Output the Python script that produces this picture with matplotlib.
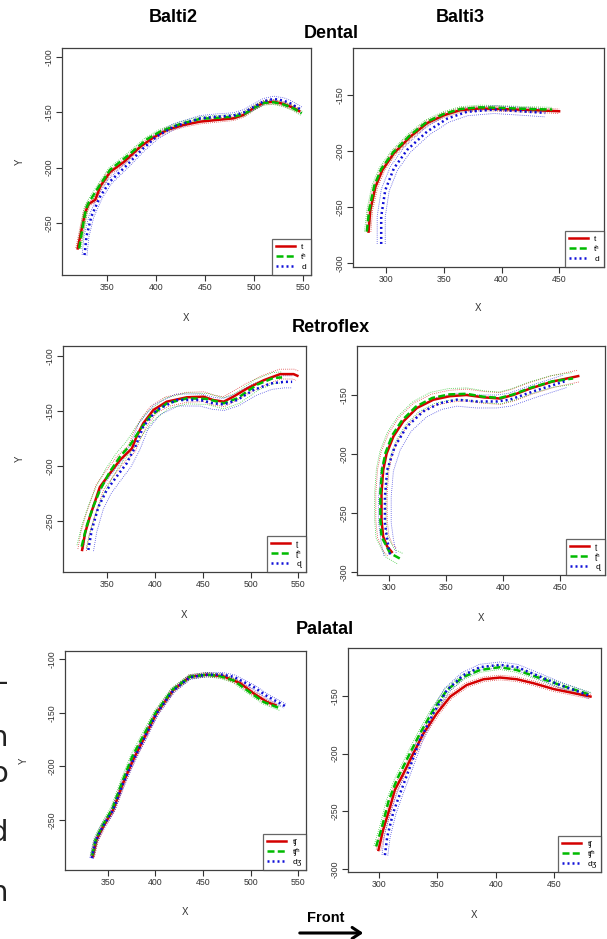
import numpy as np
import matplotlib
matplotlib.use("Agg")
import matplotlib.pyplot as plt
from matplotlib import font_manager
from matplotlib.patches import FancyArrowPatch

# ---- data ----
# Balti2, dental
b2_den_t_x = [320, 324, 327.5, 331, 338, 343, 353, 367, 384, 397, 411, 428, 445, 462, 479, 489, 499, 509.5, 520, 530, 540, 546]
b2_den_t_y = [-273, -256, -241, -233, -229, -217, -204, -195, -181, -173, -166, -161.5, -158.5, -157, -155.5, -152.5, -146.5, -141.5, -140.5, -142.5, -146, -149]
b2_den_th_x = [321.5, 326, 328.5, 331, 339.5, 353, 370, 390.5, 404, 425, 445, 462, 479, 490, 500, 510, 520, 530, 540, 548.5]
b2_den_th_y = [-273, -249, -237, -232, -220, -202, -190, -174.5, -167.5, -160.5, -156, -155, -154, -151.5, -146, -141.5, -141, -143, -146.5, -151]
b2_den_d_x = [327, 329, 334, 343, 353, 370, 387, 400.5, 418, 445, 462, 479, 490, 499, 510, 520, 530, 537, 548.5]
b2_den_d_y = [-279, -262, -244, -226, -212.5, -198, -182.5, -172, -163, -155.5, -154, -153, -150, -145.5, -140, -138, -139.5, -142, -148]
b2_den_band = [2.0, 2.0, 2.5]

# Balti3, dental
b3_den_t_x = [284.5, 286, 290.5, 296.5, 306.5, 321, 335.5, 350, 364, 381.5, 399, 428, 450]
b3_den_t_y = [-272, -253, -232, -217, -202, -187, -175, -168, -163.5, -162, -162.5, -163.5, -164.5]
b3_den_th_x = [283, 285, 289.5, 295.5, 306, 320.5, 335, 349.5, 364, 381.5, 399, 425, 444]
b3_den_th_y = [-272, -253, -231, -216, -201, -186, -174, -167, -162.5, -161, -161.5, -162.5, -163]
b3_den_d_x = [295.5, 295.5, 299, 306.5, 318, 335.5, 353, 370, 393.5, 416.5, 438]
b3_den_d_y = [-283, -258.5, -235, -215.5, -199, -182.5, -171, -165, -163, -164.5, -166]
b3_den_band = [2.0, 2.0, 3.5]

# Balti2, retroflex
b2_ret_t_x = [324, 327, 332, 337.5, 342.5, 353, 363.5, 376, 381, 388, 398.5, 412.5, 433.5, 451, 461, 472, 482, 496.5, 514, 531, 545, 549]
b2_ret_t_y = [-276, -261, -246, -232, -219, -206.5, -194.5, -184, -173, -161, -149, -141.5, -137.5, -137, -140, -141.5, -137, -129.5, -122, -116.5, -116.5, -118]
b2_ret_th_x = [323.5, 328.5, 335.5, 342.5, 353, 363.5, 374, 384.5, 395, 412.5, 433.5, 454.5, 472, 486, 507, 524, 533]
b2_ret_th_y = [-273, -255, -237, -222, -205, -191.5, -181, -167, -155, -143, -138.5, -139, -143, -138.5, -126, -120, -119.5]
b2_ret_d_x = [330.5, 334, 341, 349.5, 360, 370.5, 379.5, 388, 402, 423, 447.5, 461, 472, 486, 503, 521, 535, 543.5]
b2_ret_d_y = [-276, -258, -237, -222, -209.5, -197.5, -182.5, -164, -149, -140, -140, -143, -144, -140, -131, -125, -123.5, -123.5]
b2_ret_band = [4.5, 5.0, 5.5]

# Balti3, retroflex
b3_ret_t_x = [302.5, 298.5, 295, 293.5, 293.5, 295, 298, 304, 312.5, 324.5, 339, 353.5, 368, 383, 397.5, 409, 424, 444, 466]
b3_ret_t_y = [-283, -278.5, -270, -256, -233, -213.5, -199.5, -185, -172.5, -161, -154, -151, -150, -152, -153, -150, -144.5, -138.5, -134]
b3_ret_th_x = [309.5, 301, 293.5, 292.5, 292.5, 294, 297, 303, 311.5, 323.5, 338, 353, 368, 383, 397.5, 409, 424, 443, 461.5]
b3_ret_th_y = [-288.5, -284, -270, -256, -233, -213, -199, -184, -171.5, -160, -152.5, -149.5, -149, -151.5, -152.5, -149.5, -144, -138.5, -136]
b3_ret_d_x = [301, 298.5, 296.5, 296.5, 298.5, 305, 315.5, 330, 344.5, 359.5, 377, 394.5, 406, 426.5, 454]
b3_ret_d_y = [-285, -273, -258.5, -236, -213.5, -194, -177, -164, -157, -154, -155.5, -155.5, -154, -147, -138.5]
b3_ret_band = [5.0, 5.0, 5.5]

# Balti2, palatal
b2_pal_t_x = [334, 338, 345, 355.5, 366, 376.5, 387, 401, 418.5, 436, 454, 471, 489, 503, 517, 526]
b2_pal_t_y = [-284, -268.5, -256, -240.5, -215.5, -194, -175.5, -150.5, -129, -116.5, -114.5, -116, -122.5, -132, -140, -143]
b2_pal_th_x = [333.5, 337.5, 344.5, 355, 365.5, 375.5, 386, 400.5, 418, 436, 454, 468, 482, 496, 513.5, 531]
b2_pal_th_y = [-283, -267.5, -255, -239, -213.5, -191, -173.5, -149.5, -128.5, -116.5, -114.5, -116, -120, -129, -140, -146]
b2_pal_d_x = [333, 337, 344, 355, 366, 376.5, 387, 401, 418.5, 436, 454, 470, 482, 503, 517, 534.5, 536]
b2_pal_d_y = [-285.5, -270, -257, -241.5, -216, -194.5, -176, -151, -129.5, -117, -114.5, -114.5, -116.5, -126, -134.5, -143, -144]
b2_pal_band = [2.0, 2.0, 2.0]

# Balti3, palatal
b3_pal_t_x = [299.5, 303.5, 309.5, 313.5, 321, 329.5, 338, 349.5, 361, 375, 389.5, 403.5, 418, 432.5, 449.5, 466.5, 481]
b3_pal_t_y = [-283.5, -266, -246, -231.5, -217, -199.5, -182.5, -165, -150.5, -140.5, -135.5, -134, -135.5, -139, -144, -147.5, -150.5]
b3_pal_th_x = [297.5, 302.5, 308, 315, 323.5, 335, 346.5, 358, 372, 386.5, 403.5, 418, 435, 455, 481]
b3_pal_th_y = [-280.5, -263.5, -241.5, -223, -205.5, -182.5, -162, -145, -133.5, -127.5, -125, -127.5, -133.5, -140.5, -149]
b3_pal_d_x = [305, 307, 312, 318, 326.5, 335, 346.5, 358, 372, 386.5, 403.5, 418, 435, 455, 481]
b3_pal_d_y = [-288, -272, -251.5, -234.5, -211.5, -188, -165, -145, -132, -125, -123, -125, -132, -140.5, -150]
b3_pal_band = [2.0, 2.0, 2.5]

dental_labels = ["t", "tʰ", "d"]
retroflex_labels = ["ʈ", "ʈʰ", "ɖ"]
palatal_labels = ["tʃ", "tʃʰ", "dʒ"]

left_xticks = [350, 400, 450, 500, 550]
left_yticks = [-100, -150, -200, -250]
right_xticks = [300, 350, 400, 450]
right_yticks = [-150, -200, -250, -300]

# ---- style ----
names = {f.name for f in font_manager.fontManager.ttflist}
title_font = "Liberation Sans Narrow" if "Liberation Sans Narrow" in names else "Liberation Sans"
plt.rcParams["font.family"] = ["Liberation Sans", "DejaVu Sans"]
plt.rcParams["axes.unicode_minus"] = False

colors = ["#d40000", "#00bb00", "#1010d8"]
styles = ["-", (0, (2.8, 1.3)), (0, (0.8, 1.2))]
frame_col = "#404040"

W, H = 607, 939
fig = plt.figure(figsize=(W / 100, H / 100), dpi=100)


def px_axes(x0, y0, x1, y1):
    return fig.add_axes([x0 / W, 1 - y1 / H, (x1 - x0) / W, (y1 - y0) / H])


def band_lines(x, y, w):
    # dotted confidence lines on both sides of a curve
    x = np.asarray(x, float)
    y = np.asarray(y, float)
    dx = np.gradient(x)
    dy = np.gradient(y)
    n = np.hypot(dx, dy)
    nx, ny = -dy / n, dx / n
    return (x + nx * w, y + ny * w), (x - nx * w, y - ny * w)


def panel(box, xlim, ylim, xticks, yticks, curves, bands, labels, xlab_y, ylab_x=None):
    ax = px_axes(*box)
    ax.set_xlim(*xlim)
    ax.set_ylim(*ylim)
    handles = []
    for (cx, cy), w, c in zip(curves, bands, colors):
        up, lo = band_lines(cx, cy, w)
        ax.plot(*up, color=c, lw=0.6, ls=(0, (1, 1.5)), alpha=0.75)
        ax.plot(*lo, color=c, lw=0.6, ls=(0, (1, 1.5)), alpha=0.75)
    for (cx, cy), c, ls, lab in zip(curves, colors, styles, labels):
        h, = ax.plot(cx, cy, color=c, lw=1.8, ls=ls, label=lab)
        handles.append(h)
    ax.set_xticks(xticks)
    ax.set_yticks(yticks)
    ax.tick_params(labelsize=6.3, colors="#333333", length=4, width=0.8, pad=2)
    for lbl in ax.get_yticklabels():
        lbl.set_rotation(90)
        lbl.set_va("center")
    for s in ax.spines.values():
        s.set_color(frame_col)
        s.set_linewidth(0.9)
    x0, y0, x1, y1 = box
    ax.set_xlabel("X", fontsize=7, color="#333333")
    ax.xaxis.set_label_coords(0.5, -(xlab_y - y1) / (y1 - y0))
    if ylab_x is not None:
        ax.set_ylabel("Y", fontsize=7, color="#333333")
        ax.yaxis.set_label_coords(-(x0 - ylab_x) / (x1 - x0), 0.5)
    leg = ax.legend(handles=handles, loc="lower right", borderaxespad=0, fontsize=6,
                    frameon=True, fancybox=False, handlelength=2.2, handletextpad=0.8,
                    labelspacing=0.25, borderpad=0.5)
    leg.get_frame().set_edgecolor(frame_col)
    leg.get_frame().set_linewidth(0.9)
    return ax


panel((62, 48, 311, 275), (304, 558), (-297, -92), left_xticks, left_yticks,
      [(b2_den_t_x, b2_den_t_y), (b2_den_th_x, b2_den_th_y), (b2_den_d_x, b2_den_d_y)],
      b2_den_band, dental_labels, 313, 25)
panel((353, 48, 604, 267), (271, 489), (-303.6, -108), right_xticks, right_yticks,
      [(b3_den_t_x, b3_den_t_y), (b3_den_th_x, b3_den_th_y), (b3_den_d_x, b3_den_d_y)],
      b3_den_band, dental_labels, 303)
panel((63, 346, 306, 572), (304, 558), (-296, -91), left_xticks, left_yticks,
      [(b2_ret_t_x, b2_ret_t_y), (b2_ret_th_x, b2_ret_th_y), (b2_ret_d_x, b2_ret_d_y)],
      b2_ret_band, retroflex_labels, 610, 25)
panel((357, 346, 605, 575), (272, 489.5), (-302.5, -108.5), right_xticks, right_yticks,
      [(b3_ret_t_x, b3_ret_t_y), (b3_ret_th_x, b3_ret_th_y), (b3_ret_d_x, b3_ret_d_y)],
      b3_ret_band, retroflex_labels, 613)
panel((65, 651, 306, 870), (305, 558), (-296.5, -92.5), left_xticks, left_yticks,
      [(b2_pal_t_x, b2_pal_t_y), (b2_pal_th_x, b2_pal_th_y), (b2_pal_d_x, b2_pal_d_y)],
      b2_pal_band, palatal_labels, 907, 29)
panel((348, 648, 601, 872), (273.4, 490), (-302.6, -108.4), right_xticks, right_yticks,
      [(b3_pal_t_x, b3_pal_t_y), (b3_pal_th_x, b3_pal_th_y), (b3_pal_d_x, b3_pal_d_y)],
      b3_pal_band, palatal_labels, 910)


# titles
def ftext(x, y, s, **kw):
    fig.text(x / W, 1 - y / H, s, ha="center", va="center", **kw)


ftext(173, 17, "Balti2", fontsize=13, fontweight="bold", family=title_font)
ftext(460, 17, "Balti3", fontsize=13, fontweight="bold", family=title_font)
ftext(331, 33, "Dental", fontsize=13, fontweight="bold", family=title_font)
ftext(331, 327, "Retroflex", fontsize=13, fontweight="bold", family=title_font)
ftext(325, 629, "Palatal", fontsize=13, fontweight="bold", family=title_font)
ftext(326, 918, "Front", fontsize=10.5, fontweight="bold", family=title_font)

arrow = FancyArrowPatch((297 / W, 1 - 933 / H), (366 / W, 1 - 933 / H),
                        transform=fig.transFigure, arrowstyle="->,head_length=6,head_width=4",
                        lw=2.2, color="black", mutation_scale=1)
fig.add_artist(arrow)

# letters cut off at the left edge (as in the reference)
for ch, yy in zip(["-", "n", "o", "d", "n"], [683, 738, 774, 833, 893]):
    fig.text(8 / W, 1 - yy / H, ch, ha="right", va="center", fontsize=21,
             color="#222222", family="DejaVu Sans")

fig.savefig("out.png", dpi=100)
